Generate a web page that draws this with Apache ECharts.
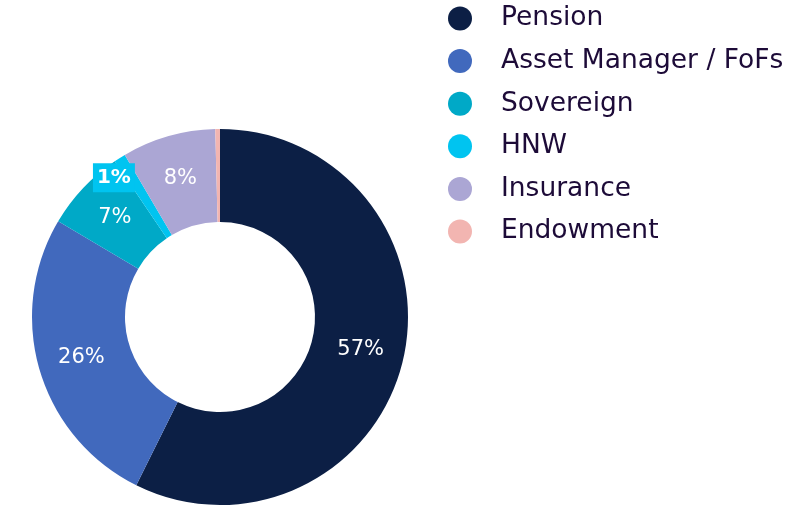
<!DOCTYPE html>
<html>
<head>
<meta charset="utf-8">
<script src="https://cdn.jsdelivr.net/npm/echarts@6/dist/echarts.min.js"></script>
<style>
  html, body { margin: 0; padding: 0; background: #ffffff; }
  #chart { width: 799px; height: 506px; }
</style>
</head>
<body>
<div id="chart"></div>
<script>
// Investor types and their share of commitments (%)
const investorTypes = ['Pension', 'Asset Manager / FoFs', 'Sovereign', 'HNW', 'Insurance', 'Endowment'];
const sharePercent = [57, 26, 7, 1, 8, 0.4];
const sliceColors = ['#0c1f45', '#4169bd', '#00a9c7', '#00c4f0', '#aba6d4', '#f2b5b1'];
// Slices whose percentage is printed on the ring
const labelledTypes = ['Pension', 'Asset Manager / FoFs', 'Sovereign', 'HNW', 'Insurance'];

const FONT = 'DejaVu Sans';

const pieData = investorTypes.map(function (name, i) {
  const item = {
    name: name,
    value: sharePercent[i],
    itemStyle: { color: sliceColors[i] },
    label: { show: labelledTypes.indexOf(name) !== -1 }
  };
  if (name === 'HNW') {
    // thin slice: label sits in a coloured tag near the outer edge
    item.label = {
      show: true,
      backgroundColor: sliceColors[i],
      padding: [5, 4, 4, 4],
      fontWeight: 'bold',
      fontSize: 20,
      offset: [-29, -17]
    };
  }
  return item;
});

const chart = echarts.init(document.getElementById('chart'), null, { renderer: 'canvas' });
chart.setOption({
  animation: false,
  backgroundColor: '#ffffff',
  legend: {
    orient: 'vertical',
    left: 443,
    top: 0,
    icon: 'circle',
    itemWidth: 24,
    itemHeight: 24,
    itemGap: 15.6,
    selectedMode: false,
    data: investorTypes,
    textStyle: {
      fontFamily: FONT,
      fontSize: 26.5,
      color: '#1d0b38',
      padding: [0, 0, 0, 24]
    }
  },
  series: [{
    type: 'pie',
    center: [220, 317],
    radius: [95, 188],
    startAngle: 90,
    clockwise: true,
    avoidLabelOverlap: false,
    silent: true,
    itemStyle: { borderWidth: 0 },
    label: {
      position: 'inside',
      formatter: function (p) { return p.value + '%'; },
      fontFamily: FONT,
      fontSize: 21,
      color: '#ffffff'
    },
    labelLine: { show: false },
    emphasis: { disabled: true },
    data: pieData
  }]
});
</script>
</body>
</html>
